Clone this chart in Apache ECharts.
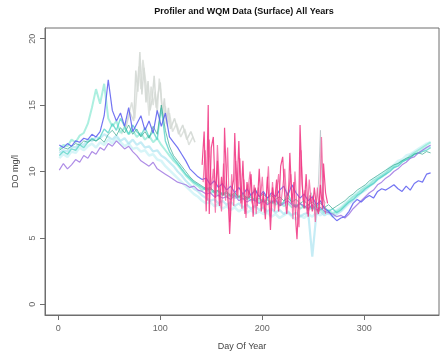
<!DOCTYPE html>
<html>
<head>
<meta charset="utf-8">
<script src="https://cdn.jsdelivr.net/npm/echarts@6/dist/echarts.min.js"></script>
<style>
  html, body { margin: 0; padding: 0; background: #ffffff; overflow: hidden; }
  #chart { width: 440px; height: 356px; }
</style>
</head>
<body>
<div id="chart"></div>
<script>
// Day of year sampled every 4 days for the multi-year surface records
const DAYS = [1,5,9,13,17,21,25,29,33,37,
  41,45,49,53,57,61,65,69,73,77,
  81,85,89,93,97,101,105,109,113,117,
  121,125,129,133,137,141,145,149,153,157,
  161,165,169,173,177,181,185,189,193,197,
  201,205,209,213,217,221,225,229,233,237,
  241,245,249,253,257,261,265,269,273,277,
  281,285,289,293,297,301,305,309,313,317,
  321,325,329,333,337,341,345,349,353,357,
  361,365];

// Dissolved oxygen (mg/l), one array per record
const DO_BLUE = [12.0,11.8,12.1,11.9,12.3,12.2,12.5,12.4,12.8,12.6,
  13.0,14.2,16.9,14.6,13.8,14.4,13.4,14.8,13.0,13.6,
  14.2,13.1,13.8,12.9,14.6,13.4,14.4,12.6,12.2,11.8,
  11.3,10.8,10.2,9.9,9.6,9.4,9.5,9.0,9.3,8.8,
  9.1,8.6,8.9,8.4,8.8,8.3,8.7,8.2,8.6,8.1,
  8.5,8.0,8.4,8.1,8.6,8.9,8.2,9.0,8.4,8.0,
  8.3,7.8,8.1,7.5,7.8,7.2,7.0,6.6,6.3,6.5,
  6.6,7.0,7.6,7.9,7.7,8.0,8.2,8.0,8.5,8.7,
  8.6,8.8,9.0,8.7,8.5,8.9,8.6,9.1,9.3,9.2,
  9.8,9.9];

const DO_PURPLE = [10.1,10.6,10.2,10.5,10.9,10.7,11.2,11.0,11.5,11.3,
  11.8,11.6,12.1,11.9,12.3,12.0,11.7,11.9,11.5,11.2,
  10.8,10.6,10.4,10.7,10.2,10.0,9.8,9.6,9.4,9.2,
  9.1,9.0,8.8,8.9,8.6,8.5,8.3,8.4,8.1,8.2,
  8.0,8.1,7.9,8.2,7.8,8.0,7.7,7.9,7.8,7.6,
  7.8,7.5,7.7,7.9,7.4,7.6,7.8,7.5,7.3,7.6,
  7.4,7.2,7.5,7.1,7.3,7.0,6.9,6.8,6.6,6.7,
  6.5,6.8,7.2,7.5,7.8,8.1,8.4,8.6,9.0,9.2,
  9.5,9.7,10.0,10.2,10.5,10.7,11.0,11.1,11.4,11.6,
  11.8,12.0];

const DO_AQUA = [11.7,12.0,11.9,12.4,12.2,12.7,12.9,13.6,14.8,16.2,
  15.1,16.6,14.0,13.4,13.8,12.9,13.3,12.8,13.1,12.6,
  12.9,12.4,12.7,12.2,12.5,12.0,11.6,11.2,10.8,10.5,
  10.1,9.7,9.4,9.1,8.9,8.6,8.8,8.4,8.5,8.2,
  8.4,8.1,8.3,8.0,8.2,7.9,8.1,7.8,8.0,7.7,
  7.9,7.6,7.8,7.5,7.7,7.4,7.6,7.3,7.5,7.2,
  7.4,7.1,7.3,7.0,7.2,6.9,7.1,6.8,7.0,7.2,
  7.5,7.8,8.1,8.3,8.6,8.8,9.0,9.3,9.5,9.7,
  9.9,10.2,10.4,10.6,10.8,10.9,11.2,11.4,11.6,11.8,
  12.0,12.2];

const DO_LIGHT = [11.4,11.6,11.5,11.9,11.8,12.1,12.0,12.4,12.3,12.6,
  12.5,12.8,12.6,12.4,12.7,12.3,12.5,12.1,12.4,12.0,
  12.2,11.8,11.9,11.5,11.6,11.2,11.0,10.7,10.4,10.0,
  9.7,9.3,9.0,8.7,8.5,8.2,8.0,7.8,7.9,7.6,
  7.8,7.5,7.7,7.4,7.6,7.3,7.5,7.2,7.4,7.1,
  7.3,7.0,7.2,6.9,7.1,6.8,7.0,6.7,6.9,6.6,
  6.8,6.9,3.6,6.8,7.0,6.7,6.9,6.6,6.8,7.0,
  7.3,7.6,7.8,8.1,8.4,8.6,8.9,9.1,9.4,9.6,
  9.8,10.1,10.3,10.5,10.8,10.9,11.1,11.3,11.4,11.6,
  11.8,11.9];

const DO_PALE = [11.0,11.3,11.1,11.5,11.4,11.8,11.6,11.9,12.1,11.8,
  12.2,12.0,12.4,12.1,12.5,12.2,11.9,12.1,11.7,11.8,
  11.5,11.6,11.2,11.3,10.9,10.8,10.4,10.1,9.8,9.5,
  9.2,8.9,8.6,8.3,8.1,7.8,7.6,7.7,7.4,7.5,
  7.2,7.4,7.1,7.3,7.0,7.2,6.9,7.1,6.8,7.0,
  6.8,6.9,6.6,6.8,6.5,6.7,6.9,6.6,6.4,6.7,
  6.5,6.8,6.6,6.9,6.7,7.0,6.8,6.9,7.1,7.3,
  7.6,7.9,8.1,8.4,8.6,8.9,9.1,9.4,9.6,9.8,
  10.0,10.3,10.5,10.8,10.9,11.2,11.3,11.5,11.7,11.9,
  12.1,12.2];

const DO_TURQ = [11.2,11.5,11.3,11.7,11.6,12.0,11.8,12.2,12.5,12.3,
  12.6,13.2,12.9,13.6,13.1,14.0,13.4,12.8,13.5,13.0,
  12.7,13.3,12.6,13.0,12.4,14.8,12.3,11.5,11.0,10.6,
  10.2,9.8,9.5,9.2,9.0,8.8,8.6,8.7,8.4,8.5,
  8.2,8.4,8.1,8.3,8.0,8.2,7.9,8.1,7.8,8.0,
  7.7,7.9,7.6,7.8,7.5,7.7,8.4,7.6,7.4,7.6,
  7.3,7.5,7.2,7.4,7.1,7.3,7.0,7.2,6.9,7.1,
  7.4,7.7,7.9,8.2,8.4,8.7,8.9,9.1,9.4,9.6,
  9.8,10.0,10.3,10.4,10.7,10.9,11.0,11.3,11.4,11.5,
  11.6,11.8];

const DO_SEA = [11.6,11.8,11.7,11.9,12.1,12.0,12.3,12.2,12.4,12.3,
  12.5,12.2,12.8,13.1,12.7,13.3,12.9,13.5,12.8,13.2,
  12.6,13.0,12.5,13.4,12.8,15.0,13.1,11.9,11.2,10.8,
  10.4,10.0,9.6,9.3,9.1,8.9,8.7,8.8,8.5,8.6,
  8.3,8.5,8.2,8.4,8.1,8.3,8.0,8.2,8.7,8.1,
  8.3,8.0,8.2,7.9,8.1,7.8,8.0,7.7,7.9,7.6,
  7.8,7.5,7.7,7.4,7.6,7.3,7.5,7.2,7.4,7.6,
  7.8,8.1,8.3,8.6,8.8,9.0,9.3,9.5,9.7,9.9,
  10.1,10.3,10.5,10.6,10.8,11.0,11.1,11.3,11.4,11.3,
  11.5,11.4];

// Spring profiler records (gray)
const GRAY_DAYS = [66,70,74,76,78,80,82,84,86,88,90,92,94,96,98,100,102,104,106,108,110,114,118,122,126,130,134];
const DO_GRAY = [13.2,14.5,13.8,17.6,16.0,19.0,15.8,17.8,15.2,16.8,14.6,15.4,17.2,14.8,15.9,16.7,14.2,15.5,13.6,14.8,13.2,14.0,12.8,13.5,12.4,13.0,12.2];

const GRAY_B_DAYS = [62,68,72,75,79,81,83,87,89,91,93,95,97,99,101,103,105,107,109,112,116,120,124,128,132];
const DO_GRAY_B = [12.8,13.9,15.2,14.0,17.9,16.2,18.4,16.0,14.2,16.4,15.0,16.0,14.4,17.0,15.6,13.8,14.9,13.4,14.4,13.0,13.6,12.6,13.2,12.0,12.6];

const GRAY2_DAYS = [244,248,252,255,257,259,262];
const DO_GRAY2 = [7.8,8.4,7.2,9.0,13.1,8.0,7.6];

// Summer profiler records (pink)
const PINK_DAYS = [141,143,145,147,148,150,152,154,156,158,160,162,163,165,167,168,170,172,173,175,
  177,179,181,183,185,187,189,191,193,195,197,199,201,203,205,207,208,210,212,214,
  216,218,220,222,224,226,227,229,231,233,234,236,237,239,241,243,245,247,249,251,
  253,255,257,259,260,262,264];
const DO_PINK = [10.5,13.0,7.0,15.0,6.8,11.8,12.6,8.0,10.8,7.4,9.6,8.2,13.3,9.0,7.2,5.3,8.6,9.4,12.9,8.2,
  12.3,7.6,10.8,6.8,9.2,8.0,9.8,6.6,8.8,7.4,10.2,7.0,8.4,6.4,9.6,7.2,5.6,8.8,7.6,9.4,
  7.0,10.4,11.1,8.2,6.8,9.0,11.4,7.6,9.2,6.0,4.9,8.4,13.5,9.0,7.2,9.8,6.6,8.2,7.0,8.8,
  7.4,6.8,9.0,7.2,10.6,8.4,7.6];

const PINK_B_DAYS = [142,144,146,148,150,152,154,156,158,160,
  162,164,166,168,170,172,174,176,178,180,
  182,184,186,188,190,192,194,196,198,200,
  202,204,206,208,210,212,214,216,218,220,
  222,224,226,228,230,232,234,236,238,240,
  242,244,246,248,250,252,254,256,258,260,
  262];
const DO_PINK_B = [9.2,11.6,7.8,12.4,8.6,10.2,6.9,12.0,8.8,7.0,
  10.6,7.8,11.8,6.2,9.8,7.4,10.8,8.0,11.0,7.2,
  9.4,6.5,8.6,10.0,7.6,9.0,6.8,8.8,7.8,9.6,
  6.9,8.2,10.4,6.6,9.2,7.0,8.4,9.8,7.4,8.8,
  10.2,7.6,8.6,9.8,6.4,10.0,7.2,5.8,11.6,7.8,
  8.6,6.8,9.4,7.6,8.2,6.2,8.8,7.0,12.6,8.0,
  6.8];

const X_TICKS = [0, 100, 200, 300];
const Y_TICKS = [0, 5, 10, 15, 20];

function pairs(xs, ys) {
  return xs.map((d, i) => [d, ys[i]]);
}

function lineSeries(name, xs, ys, color, opacity, width) {
  return {
    name: name,
    type: 'line',
    data: pairs(xs, ys),
    showSymbol: false,
    symbol: 'none',
    silent: true,
    lineStyle: { color: color, width: width || 1, opacity: opacity },
    z: 2
  };
}

const chart = echarts.init(document.getElementById('chart'), null, { renderer: 'canvas' });

const axisGray = '#6e6e6e';
const font = 'Liberation Sans, Arial, sans-serif';

chart.setOption({
  backgroundColor: '#ffffff',
  animation: false,
  graphic: [{
    type: 'text',
    x: 244,
    y: 12,
    style: {
      text: 'Profiler and WQM Data (Surface) All Years',
      font: 'bold 9px ' + font,
      fill: '#111111',
      align: 'center',
      verticalAlign: 'middle'
    }
  }],
  grid: {
    left: 45, top: 28, width: 394, height: 287,
    outerBoundsMode: 'none',
    containLabel: false,
    show: true, borderColor: axisGray, borderWidth: 1, backgroundColor: '#ffffff'
  },
  xAxis: {
    type: 'value',
    min: -13, max: 373.2,
    name: 'Day Of Year',
    nameLocation: 'middle',
    nameGap: 27,
    nameTextStyle: { fontFamily: font, fontSize: 9, color: '#444444' },
    axisLine: { show: true, onZero: false, lineStyle: { color: axisGray } },
    axisTick: { show: true, length: 5, customValues: X_TICKS, lineStyle: { color: axisGray } },
    axisLabel: { customValues: X_TICKS, margin: 9, fontFamily: font, fontSize: 9, color: '#666666' },
    splitLine: { show: false }
  },
  yAxis: {
    type: 'value',
    min: -0.8, max: 20.8,
    name: 'DO mg/l',
    nameLocation: 'middle',
    nameGap: 21,
    nameTextStyle: { fontFamily: font, fontSize: 9, color: '#444444' },
    axisLine: { show: true, onZero: false, lineStyle: { color: axisGray } },
    axisTick: { show: true, length: 5, customValues: Y_TICKS, lineStyle: { color: axisGray } },
    axisLabel: { customValues: Y_TICKS, rotate: 90, margin: 8, fontFamily: font, fontSize: 9, color: '#666666' },
    splitLine: { show: false }
  },
  series: [
    lineSeries('gray', GRAY_DAYS, DO_GRAY, '#cdd3ce', 0.8, 1.5),
    lineSeries('grayB', GRAY_B_DAYS, DO_GRAY_B, '#d6dbd6', 0.8, 1.5),
    lineSeries('gray2', GRAY2_DAYS, DO_GRAY2, '#b8c4c8', 0.8, 1),
    lineSeries('pale', DAYS, DO_PALE, '#bdeef3', 0.6, 2.5),
    lineSeries('light', DAYS, DO_LIGHT, '#9fe0ee', 0.6, 2.2),
    lineSeries('aqua', DAYS, DO_AQUA, '#7fe6cf', 0.65, 2),
    lineSeries('turq', DAYS, DO_TURQ, '#45cfc2', 0.7, 1.4),
    lineSeries('sea', DAYS, DO_SEA, '#36a68e', 0.7, 1),
    lineSeries('purple', DAYS, DO_PURPLE, '#9a6fe0', 0.8, 1.2),
    lineSeries('blue', DAYS, DO_BLUE, '#5a5cf0', 0.85, 1.2),
    lineSeries('pinkB', PINK_B_DAYS, DO_PINK_B, '#f2478f', 0.7, 1.2),
    lineSeries('pink', PINK_DAYS, DO_PINK, '#f0307f', 0.85, 1.2)
  ]
});
</script>
</body>
</html>
